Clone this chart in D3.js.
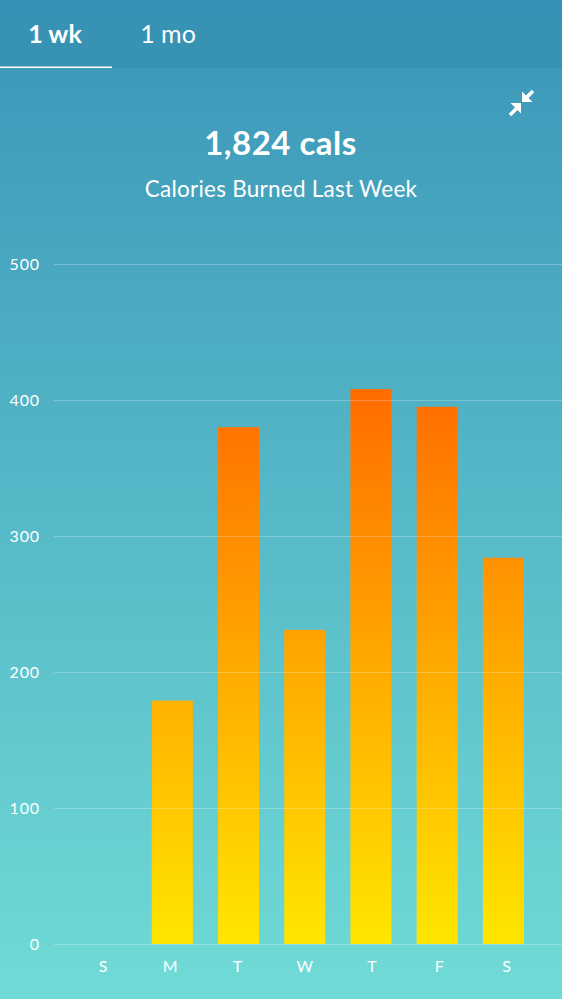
<!DOCTYPE html>
<html><head><meta charset="utf-8">
<style>html,body{margin:0;padding:0;background:#5bb8c8}svg{display:block}text{font-family:Lato,"Open Sans",sans-serif;fill:#fff}</style>
<script src="https://d3js.org/d3.v7.min.js"></script></head>
<body><svg id="c" width="562" height="999"></svg>
<script>
const days = ["S","M","T","W","T","F","S"];
const calories = [0,179,380,231,408,395,284];
const yTicks = [0,100,200,300,400,500];
const tabs = ["1 wk","1 mo"];
const headline = "1,824 cals";
const subtitle = "Calories Burned Last Week";

const W=562,H=999;
const svg=d3.select("#c");
const defs=svg.append("defs");
const bg=defs.append("linearGradient").attr("id","bg").attr("x1",0).attr("y1",0).attr("x2",0).attr("y2",1);
bg.append("stop").attr("offset",0).attr("stop-color","#3b95b8");
bg.append("stop").attr("offset",1).attr("stop-color","#70dbd6");
svg.append("rect").attr("width",W).attr("height",H).attr("fill","url(#bg)");
svg.append("rect").attr("width",W).attr("height",68).attr("fill","#3690b3").attr("opacity",.85);

const y=d3.scaleLinear().domain([0,500]).range([944,264]);
const x=d3.scaleBand().domain(d3.range(days.length)).range([73,536.5]).paddingInner(0.38).paddingOuter(0.19);
const xl=d3.scalePoint().domain(d3.range(days.length)).range([102.5,506]);

const g=defs.append("linearGradient").attr("id","bar").attr("gradientUnits","userSpaceOnUse")
  .attr("x1",0).attr("x2",0).attr("y1",y(0)).attr("y2",y(408));
g.append("stop").attr("offset",0).attr("stop-color","#ffe600");
g.append("stop").attr("offset",.5).attr("stop-color","#ffaa00");
g.append("stop").attr("offset",1).attr("stop-color","#ff6c00");

svg.append("g").selectAll("rect").data(calories).join("rect")
  .attr("x",(d,i)=>x(i)).attr("width",x.bandwidth())
  .attr("y",d=>y(d)).attr("height",d=>y(0)-y(d)).attr("fill","url(#bar)");

const yAxis=d3.axisLeft(y).tickValues(yTicks).tickSize(W-54).tickPadding(14);
const ya=svg.append("g").attr("transform",`translate(${W},0)`).call(yAxis);
ya.select(".domain").remove();
ya.selectAll("line").attr("stroke","#fff").attr("stroke-opacity",.24);
ya.selectAll("text").attr("font-size",16).attr("letter-spacing",.9).attr("fill","#fff").style("font-family",'Lato,sans-serif');

const xa=d3.axisBottom(d3.scaleLinear().domain([0,6]).range([xl(0),xl(6)])).tickValues(d3.range(7)).tickFormat(i=>days[i]).tickSize(0).tickPadding(0);
const xg=svg.append("g").attr("transform","translate(0,961)").call(xa);
xg.select(".domain").remove();
xg.selectAll("text").attr("font-size",16).attr("fill","#fff").style("font-family",'Lato,sans-serif');

svg.append("g").selectAll("text").data(tabs).join("text")
  .attr("x",(d,i)=>[55,168][i]).attr("y",43).attr("text-anchor","middle").attr("font-size",25)
  .attr("font-weight",(d,i)=>i?400:700).text(d=>d);
svg.append("rect").attr("x",0).attr("y",66.5).attr("width",112).attr("height",1.5).attr("fill","#fff");

svg.append("text").attr("x",W/2-.5).attr("y",155).attr("text-anchor","middle").attr("font-size",33).attr("letter-spacing",.5).attr("font-weight",700).text(headline);
svg.append("text").attr("x",W/2).attr("y",197).attr("text-anchor","middle").attr("font-size",22.5).attr("letter-spacing",.25).text(subtitle);

const icon=svg.append("g");
icon.append("path").attr("fill","#fff").attr("d","M522 91.500 L522 102 L532.500 102 Z");
icon.append("path").attr("fill","#fff").attr("d","M521 103 L510.500 103 L521 113.500 Z");
icon.append("path").attr("stroke","#fff").attr("stroke-width",3.6).attr("d","M526 98 L533 91 M516.500 108.500 L510 115");
</script></body></html>
